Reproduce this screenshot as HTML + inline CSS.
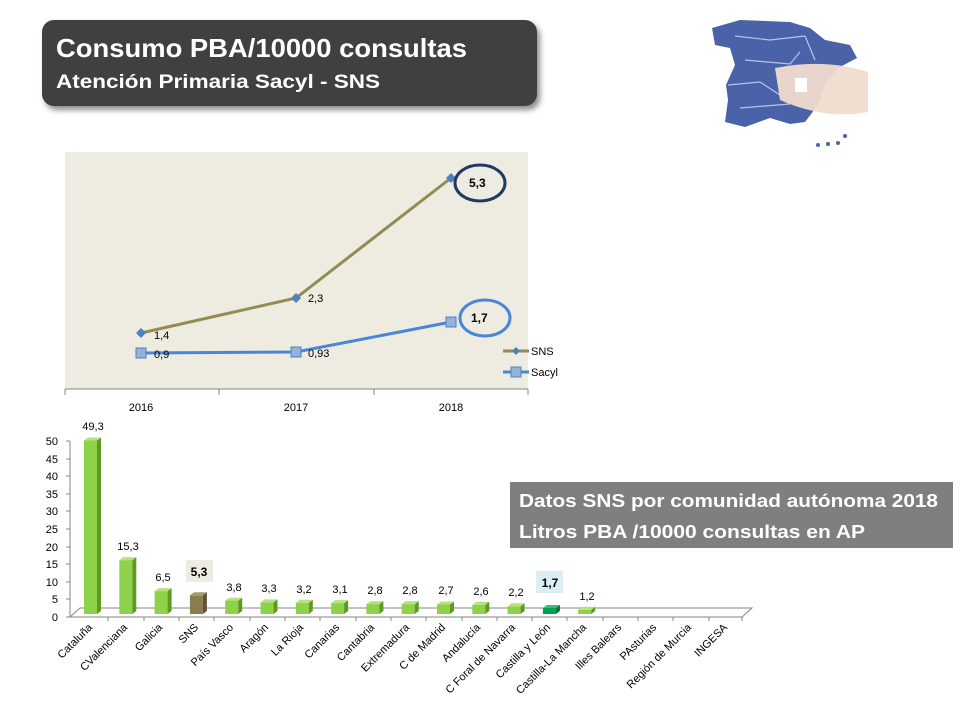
<!DOCTYPE html>
<html><head><meta charset="utf-8"><style>
body{margin:0;width:960px;height:720px;background:#fff;overflow:hidden;font-family:"Liberation Sans",sans-serif}
svg{position:absolute;left:0;top:0}
</style></head><body>
<svg width="960" height="720" viewBox="0 0 960 720" font-family="Liberation Sans, sans-serif">
<defs>
<filter id="sh" x="-5%" y="-5%" width="115%" height="130%"><feDropShadow dx="3" dy="4" stdDeviation="3" flood-color="#000" flood-opacity="0.45"/></filter>
</defs>
<!-- title -->
<rect x="42" y="20" width="495" height="86" rx="12" fill="#404040" filter="url(#sh)"/>
<text x="56" y="57" fill="#fff" font-size="26" font-weight="bold" textLength="411" lengthAdjust="spacingAndGlyphs">Consumo PBA/10000 consultas</text>
<text x="56" y="88" fill="#fff" font-size="19" font-weight="bold" textLength="324" lengthAdjust="spacingAndGlyphs">Atención Primaria Sacyl - SNS</text>
<!-- map image approx -->
<g>
<path d="M712,28 L740,20 L790,22 L810,28 L825,40 L850,45 L857,58 L838,68 L825,85 L818,105 L805,122 L790,124 L770,118 L745,127 L725,122 L728,100 L726,85 L735,65 L730,48 L715,45 Z" fill="#4a62a8"/>
<g stroke="#b8c4ea" stroke-width="1.2" fill="none"><path d="M735,36 L770,40 L805,36"/><path d="M745,60 L790,64 L800,52"/><path d="M728,85 L760,82 L780,95"/><path d="M740,108 L790,104"/><path d="M805,36 L815,60"/></g>
<path d="M775,68 Q825,58 868,72 L868,112 Q825,120 780,100 Z" fill="#f0dccf" opacity="0.95"/>
<rect x="795" y="78" width="12" height="14" fill="#fff"/>
<circle cx="818" cy="145" r="2" fill="#4a62a8"/><circle cx="828" cy="144" r="2" fill="#4a62a8"/><circle cx="838" cy="143" r="2" fill="#4a62a8"/><circle cx="845" cy="136" r="2" fill="#4a62a8"/>
</g>
<!-- line chart -->
<rect x="65" y="152" width="463" height="237" fill="#eeece1"/>
<line x1="65" y1="389" x2="528" y2="389" stroke="#868686"/>
<g stroke="#868686"><line x1="65" y1="389" x2="65" y2="395"/><line x1="219" y1="389" x2="219" y2="395"/><line x1="374" y1="389" x2="374" y2="395"/><line x1="528" y1="389" x2="528" y2="395"/></g>
<g font-size="11" fill="#000" text-anchor="middle"><text x="141" y="411">2016</text><text x="296" y="411">2017</text><text x="451" y="411">2018</text></g>
<polyline points="141,333 296,298 451,178" fill="none" stroke="#948a54" stroke-width="3"/>
<polyline points="141,353 296,352 451,322" fill="none" stroke="#4a86d8" stroke-width="3"/>
<g fill="#4f81bd"><path d="M141,328 l5,5 l-5,5 l-5,-5z"/><path d="M296,293 l5,5 l-5,5 l-5,-5z"/><path d="M451,173 l5,5 l-5,5 l-5,-5z"/></g>
<g fill="#95b3d7" stroke="#4f81bd"><rect x="136" y="348" width="10" height="10"/><rect x="291" y="347" width="10" height="10"/><rect x="446" y="317" width="10" height="10"/></g>
<g font-size="11"><text x="154" y="339">1,4</text><text x="308" y="302">2,3</text><text x="154" y="358">0,9</text><text x="308" y="357">0,93</text></g>
<ellipse cx="480" cy="183" rx="25" ry="18" fill="none" stroke="#1f3864" stroke-width="3"/>
<text x="469" y="187" font-size="12" font-weight="bold">5,3</text>
<ellipse cx="485" cy="318" rx="25" ry="18" fill="none" stroke="#4a86d8" stroke-width="3"/>
<text x="471" y="322" font-size="12" font-weight="bold">1,7</text>
<line x1="503" y1="351" x2="529" y2="351" stroke="#948a54" stroke-width="3"/><path d="M516,347 l4,4 l-4,4 l-4,-4z" fill="#4f81bd"/>
<text x="531" y="355" font-size="11">SNS</text>
<line x1="503" y1="372" x2="529" y2="372" stroke="#4a86d8" stroke-width="3"/><rect x="511" y="367" width="10" height="10" fill="#95b3d7" stroke="#4f81bd"/>
<text x="531" y="376" font-size="11">Sacyl</text>
<!-- bar chart axes -->
<line x1="70" y1="441" x2="70" y2="617" stroke="#868686"/>
<g font-size="11" text-anchor="end">
<text x="58" y="445">50</text><text x="58" y="463">45</text><text x="58" y="480">40</text><text x="58" y="498">35</text><text x="58" y="515">30</text><text x="58" y="533">25</text><text x="58" y="551">20</text><text x="58" y="568">15</text><text x="58" y="586">10</text><text x="58" y="603">5</text><text x="58" y="621">0</text>
</g>
<g stroke="#868686"><line x1="66" y1="441" x2="70" y2="441"/><line x1="66" y1="459" x2="70" y2="459"/><line x1="66" y1="476" x2="70" y2="476"/><line x1="66" y1="494" x2="70" y2="494"/><line x1="66" y1="511" x2="70" y2="511"/><line x1="66" y1="529" x2="70" y2="529"/><line x1="66" y1="547" x2="70" y2="547"/><line x1="66" y1="564" x2="70" y2="564"/><line x1="66" y1="582" x2="70" y2="582"/><line x1="66" y1="599" x2="70" y2="599"/><line x1="66" y1="617" x2="70" y2="617"/></g>
<path d="M70,617 L80,608 L752,608 L742,617 Z" fill="#fff" stroke="#868686"/>
<g stroke="#868686">
<line x1="108" y1="617" x2="108" y2="621"/><line x1="144" y1="617" x2="144" y2="621"/><line x1="179" y1="617" x2="179" y2="621"/><line x1="214" y1="617" x2="214" y2="621"/><line x1="250" y1="617" x2="250" y2="621"/><line x1="285" y1="617" x2="285" y2="621"/><line x1="320" y1="617" x2="320" y2="621"/><line x1="356" y1="617" x2="356" y2="621"/><line x1="391" y1="617" x2="391" y2="621"/><line x1="426" y1="617" x2="426" y2="621"/><line x1="462" y1="617" x2="462" y2="621"/><line x1="497" y1="617" x2="497" y2="621"/><line x1="532" y1="617" x2="532" y2="621"/><line x1="567" y1="617" x2="567" y2="621"/><line x1="603" y1="617" x2="603" y2="621"/><line x1="638" y1="617" x2="638" y2="621"/><line x1="673" y1="617" x2="673" y2="621"/><line x1="709" y1="617" x2="709" y2="621"/><line x1="742" y1="617" x2="742" y2="621"/>
</g>
<!-- bars -->
<g>
<g transform="translate(91,440.5)"><rect x="-7" y="0" width="13" height="173.5" fill="#8ed14a"/><polygon points="6,0 10,-3 10,170.5 6,173.5" fill="#5d9a22"/><polygon points="-7,0 -3,-3 10,-3 6,0" fill="#b5e27e"/></g>
<g transform="translate(126.3,560.1)"><rect x="-7" y="0" width="13" height="53.9" fill="#8ed14a"/><polygon points="6,0 10,-3 10,50.9 6,53.9" fill="#5d9a22"/><polygon points="-7,0 -3,-3 10,-3 6,0" fill="#b5e27e"/></g>
<g transform="translate(161.6,591.1)"><rect x="-7" y="0" width="13" height="22.9" fill="#8ed14a"/><polygon points="6,0 10,-3 10,19.9 6,22.9" fill="#5d9a22"/><polygon points="-7,0 -3,-3 10,-3 6,0" fill="#b5e27e"/></g>
<g transform="translate(196.9,595.3)"><rect x="-7" y="0" width="13" height="18.7" fill="#8b7d4e"/><polygon points="6,0 10,-3 10,15.7 6,18.7" fill="#5e5432"/><polygon points="-7,0 -3,-3 10,-3 6,0" fill="#a89a6a"/></g>
<g transform="translate(232.2,600.6)"><rect x="-7" y="0" width="13" height="13.4" fill="#8ed14a"/><polygon points="6,0 10,-3 10,10.4 6,13.4" fill="#5d9a22"/><polygon points="-7,0 -3,-3 10,-3 6,0" fill="#b5e27e"/></g>
<g transform="translate(267.5,602.4)"><rect x="-7" y="0" width="13" height="11.6" fill="#8ed14a"/><polygon points="6,0 10,-3 10,8.6 6,11.6" fill="#5d9a22"/><polygon points="-7,0 -3,-3 10,-3 6,0" fill="#b5e27e"/></g>
<g transform="translate(302.8,602.7)"><rect x="-7" y="0" width="13" height="11.3" fill="#8ed14a"/><polygon points="6,0 10,-3 10,8.3 6,11.3" fill="#5d9a22"/><polygon points="-7,0 -3,-3 10,-3 6,0" fill="#b5e27e"/></g>
<g transform="translate(338.1,603.1)"><rect x="-7" y="0" width="13" height="10.9" fill="#8ed14a"/><polygon points="6,0 10,-3 10,7.9 6,10.9" fill="#5d9a22"/><polygon points="-7,0 -3,-3 10,-3 6,0" fill="#b5e27e"/></g>
<g transform="translate(373.4,604.1)"><rect x="-7" y="0" width="13" height="9.9" fill="#8ed14a"/><polygon points="6,0 10,-3 10,6.9 6,9.9" fill="#5d9a22"/><polygon points="-7,0 -3,-3 10,-3 6,0" fill="#b5e27e"/></g>
<g transform="translate(408.7,604.1)"><rect x="-7" y="0" width="13" height="9.9" fill="#8ed14a"/><polygon points="6,0 10,-3 10,6.9 6,9.9" fill="#5d9a22"/><polygon points="-7,0 -3,-3 10,-3 6,0" fill="#b5e27e"/></g>
<g transform="translate(444,604.5)"><rect x="-7" y="0" width="13" height="9.5" fill="#8ed14a"/><polygon points="6,0 10,-3 10,6.5 6,9.5" fill="#5d9a22"/><polygon points="-7,0 -3,-3 10,-3 6,0" fill="#b5e27e"/></g>
<g transform="translate(479.3,604.8)"><rect x="-7" y="0" width="13" height="9.2" fill="#8ed14a"/><polygon points="6,0 10,-3 10,6.2 6,9.2" fill="#5d9a22"/><polygon points="-7,0 -3,-3 10,-3 6,0" fill="#b5e27e"/></g>
<g transform="translate(514.6,606.3)"><rect x="-7" y="0" width="13" height="7.7" fill="#8ed14a"/><polygon points="6,0 10,-3 10,4.7 6,7.7" fill="#5d9a22"/><polygon points="-7,0 -3,-3 10,-3 6,0" fill="#b5e27e"/></g>
<g transform="translate(549.9,608)"><rect x="-7" y="0" width="13" height="6" fill="#00a050"/><polygon points="6,0 10,-3 10,3 6,6" fill="#007038"/><polygon points="-7,0 -3,-3 10,-3 6,0" fill="#30c070"/></g>
<g transform="translate(585.2,609.8)"><rect x="-7" y="0" width="13" height="4.2" fill="#8ed14a"/><polygon points="6,0 10,-3 10,1.2 6,4.2" fill="#5d9a22"/><polygon points="-7,0 -3,-3 10,-3 6,0" fill="#b5e27e"/></g>
</g>
<rect x="186" y="560" width="27" height="22" fill="#eeece1"/>
<rect x="536" y="571" width="27" height="22" fill="#dbeef4"/>
<g font-size="11" text-anchor="middle">
<text x="93" y="430">49,3</text><text x="128" y="550">15,3</text><text x="163" y="581">6,5</text>
<text x="199" y="576" font-weight="bold" font-size="12">5,3</text>
<text x="234" y="591">3,8</text><text x="269" y="592">3,3</text><text x="304" y="593">3,2</text><text x="340" y="593">3,1</text><text x="375" y="594">2,8</text><text x="410" y="594">2,8</text><text x="446" y="594">2,7</text><text x="481" y="595">2,6</text><text x="516" y="596">2,2</text>
<text x="550" y="587" font-weight="bold" font-size="12">1,7</text>
<text x="587" y="600">1,2</text>
</g>
<g font-size="11" text-anchor="end">
<text transform="translate(93,628) rotate(-45)">Cataluña</text>
<text transform="translate(128,628) rotate(-45)">CValenciana</text>
<text transform="translate(163,628) rotate(-45)">Galicia</text>
<text transform="translate(199,628) rotate(-45)">SNS</text>
<text transform="translate(234,628) rotate(-45)">País Vasco</text>
<text transform="translate(269,628) rotate(-45)">Aragón</text>
<text transform="translate(304,628) rotate(-45)">La Rioja</text>
<text transform="translate(340,628) rotate(-45)">Canarias</text>
<text transform="translate(375,628) rotate(-45)">Cantabria</text>
<text transform="translate(410,628) rotate(-45)">Extremadura</text>
<text transform="translate(446,628) rotate(-45)">C de Madrid</text>
<text transform="translate(481,628) rotate(-45)">Andalucía</text>
<text transform="translate(516,628) rotate(-45)">C Foral de Navarra</text>
<text transform="translate(551,628) rotate(-45)">Castilla y León</text>
<text transform="translate(587,628) rotate(-45)">Castilla-La Mancha</text>
<text transform="translate(622,628) rotate(-45)">Illes Balears</text>
<text transform="translate(657,628) rotate(-45)">PAsturias</text>
<text transform="translate(692,628) rotate(-45)">Región de Murcia</text>
<text transform="translate(728,628) rotate(-45)">INGESA</text>
</g>
<!-- info box -->
<rect x="510" y="482" width="443" height="66" fill="#7f7f7f"/>
<text x="519" y="507" fill="#fff" font-size="18" font-weight="bold" textLength="419" lengthAdjust="spacingAndGlyphs">Datos SNS por comunidad autónoma 2018</text>
<text x="519" y="538" fill="#fff" font-size="18" font-weight="bold" textLength="346" lengthAdjust="spacingAndGlyphs">Litros PBA /10000 consultas en AP</text>
</svg>
</body></html>
